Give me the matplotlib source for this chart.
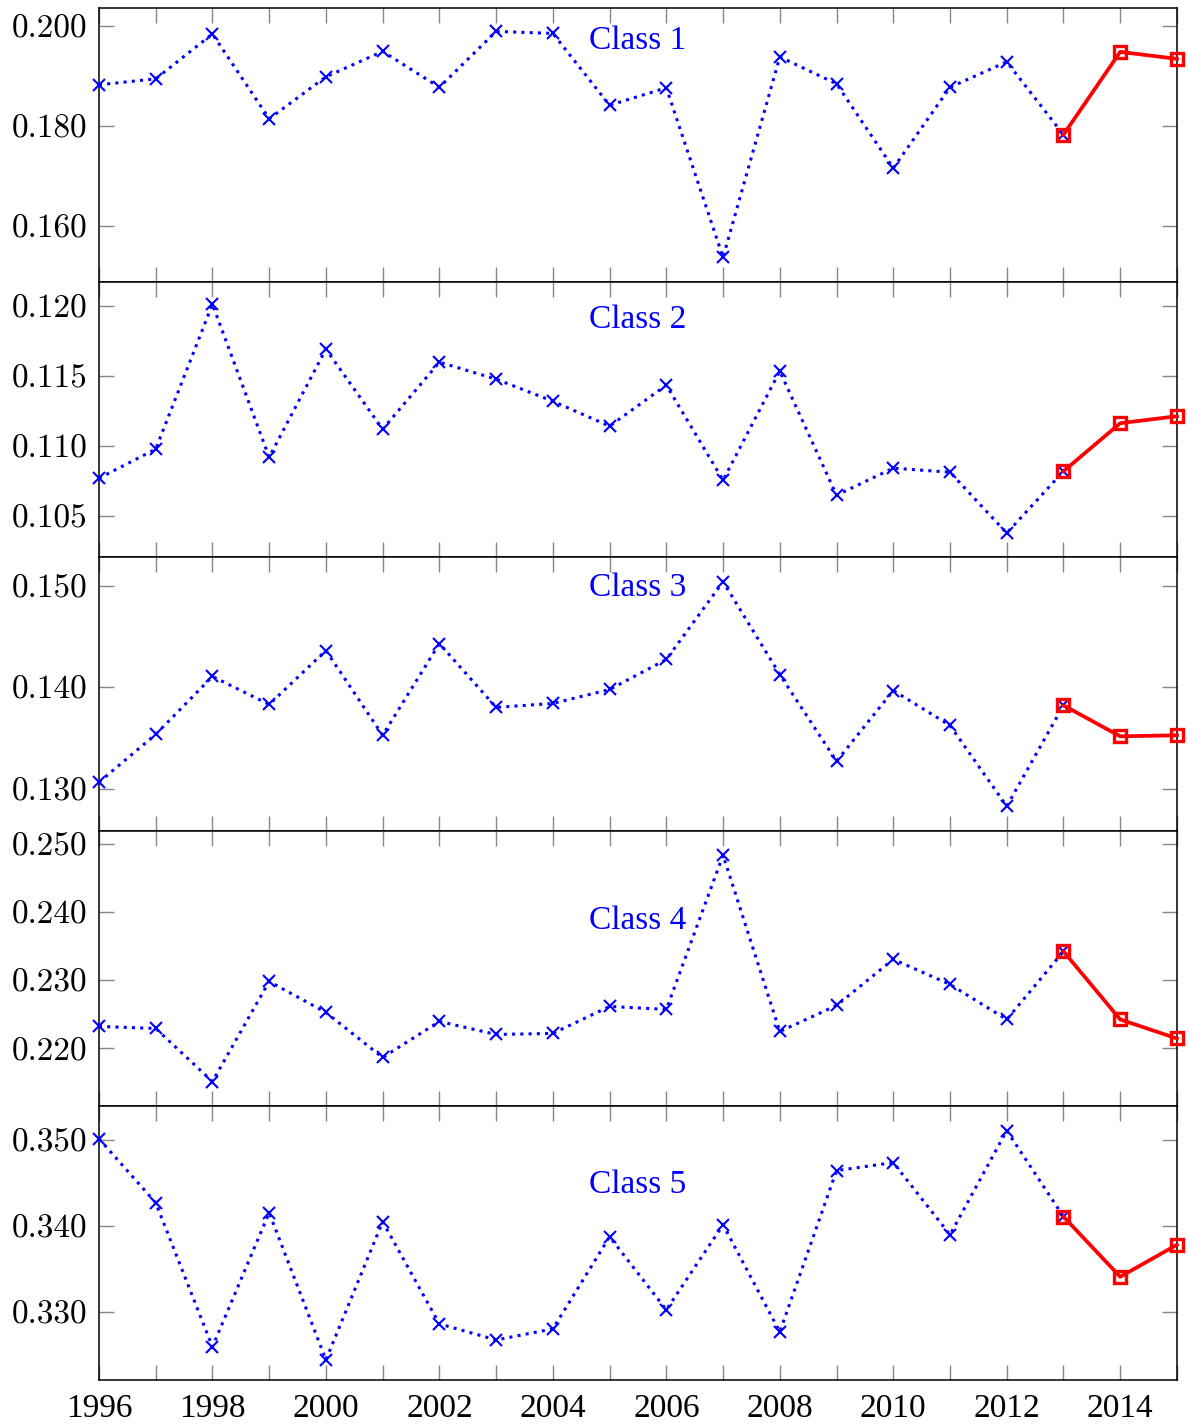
import numpy as np
import matplotlib
matplotlib.use('Agg')
import matplotlib.pyplot as plt
from matplotlib.ticker import FormatStrFormatter, MultipleLocator

years = list(range(1996, 2016))
n_hist = 18  # 1996..2013 observed, 2013..2015 forecast

class1 = [0.1882, 0.1894, 0.1984, 0.1814, 0.1898, 0.1949, 0.1877, 0.1989, 0.1985, 0.1841,
          0.1876, 0.1536, 0.1938, 0.1884, 0.1715, 0.1877, 0.1928, 0.1782, 0.1948, 0.1934]
class2 = [0.10771, 0.10979, 0.12014, 0.10921, 0.11693, 0.11121, 0.11600, 0.11479, 0.11321, 0.11143,
          0.11436, 0.10757, 0.11536, 0.10650, 0.10843, 0.10814, 0.10379, 0.10821, 0.11164, 0.11214]
class3 = [0.13069, 0.13539, 0.14108, 0.13833, 0.14363, 0.13530, 0.14431, 0.13804, 0.13843, 0.13980,
          0.14275, 0.15039, 0.14127, 0.13275, 0.13970, 0.13627, 0.12833, 0.13824, 0.13520, 0.13530]
class4 = [0.22324, 0.22294, 0.21515, 0.22985, 0.22529, 0.21868, 0.22397, 0.22206, 0.22221, 0.22618,
          0.22574, 0.24838, 0.22250, 0.22632, 0.23309, 0.22941, 0.22426, 0.23426, 0.22426, 0.22147]
class5 = [0.35010, 0.34267, 0.32593, 0.34151, 0.32442, 0.34047, 0.32860, 0.32674, 0.32802, 0.33872,
          0.33023, 0.34012, 0.32767, 0.34640, 0.34733, 0.33895, 0.35105, 0.34105, 0.33407, 0.33779]

series = [class1, class2, class3, class4, class5]
labels = ['Class 1', 'Class 2', 'Class 3', 'Class 4', 'Class 5']
ylims = [(0.1486, 0.2036), (0.1021, 0.1217), (0.12588, 0.15284), (0.21162, 0.25191), (0.32209, 0.35395)]
ysteps = [0.02, 0.005, 0.01, 0.01, 0.01]
label_y = [0.88, 0.865, 0.887, 0.675, 0.71]

fig, axes = plt.subplots(5, 1, figsize=(11.88, 14.25), dpi=100, sharex=True)
fig.subplots_adjust(left=0.0833, right=0.9907, top=0.9944, bottom=0.0316, hspace=0)

for i, ax in enumerate(axes):
    y = series[i]
    ax.plot(years[:n_hist], y[:n_hist], color='blue', linestyle=(0, (1.0, 1.7)), lw=2.2,
            dash_capstyle='butt', marker='x', ms=8, mew=1.5, clip_on=False, zorder=3)
    ax.plot(years[n_hist - 1:], y[n_hist - 1:], color='red', lw=2.7, marker='s', ms=9,
            mew=2.4, mfc='none', clip_on=False, zorder=4)
    ax.set_xlim(1996, 2015)
    ax.set_ylim(*ylims[i])
    ax.yaxis.set_major_locator(MultipleLocator(ysteps[i]))
    ax.yaxis.set_major_formatter(FormatStrFormatter('%.3f'))
    ax.xaxis.set_major_locator(MultipleLocator(1))
    ax.tick_params(direction='in', length=11, width=1, color='#888888',
                   top=True, right=True, labelsize=24, pad=8)
    for s in ax.spines.values():
        s.set_linewidth(1.1)
    for t in ax.get_yticklabels():
        t.set_fontfamily('cmr10')
    ax.text(0.5, label_y[i], labels[i], transform=ax.transAxes, color='blue',
            fontsize=24, family='Liberation Serif', ha='center', va='center')

axes[-1].set_xticks(years)
axes[-1].set_xticklabels([str(yr) if yr % 2 == 0 else '' for yr in years],
                         family='Liberation Serif', fontsize=24)
axes[-1].tick_params(axis='x', pad=10)

plt.savefig('out.png', dpi=100)
